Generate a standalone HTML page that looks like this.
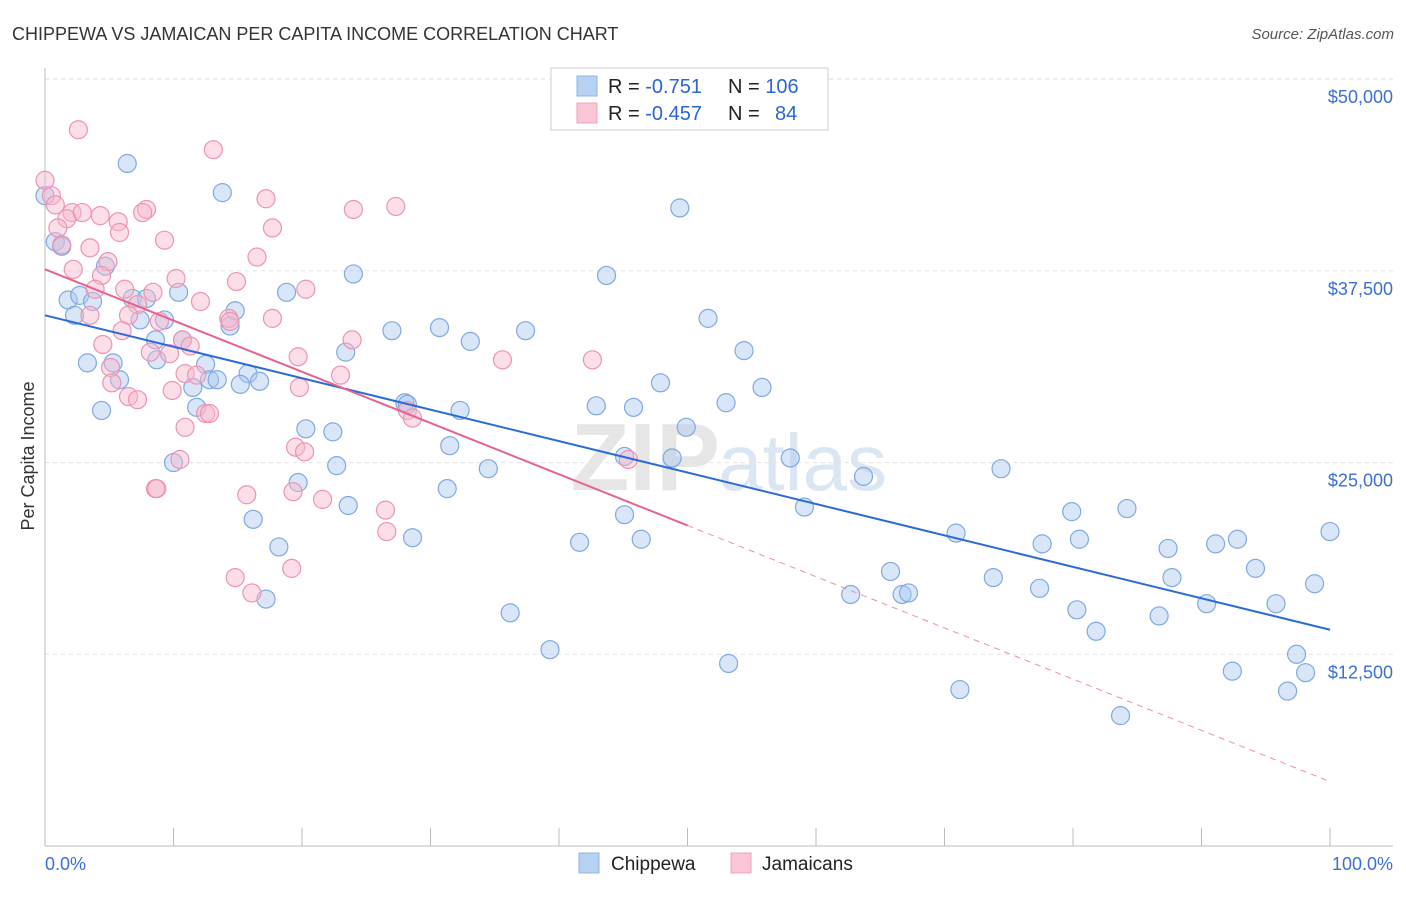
<!DOCTYPE html>
<html><head><meta charset="utf-8"><style>
body{margin:0;background:#fff;font-family:"Liberation Sans",sans-serif;}
svg text{font-family:"Liberation Sans",sans-serif;}
</style></head><body>
<svg id="chart" width="1406" height="892">
<text x="12" y="40" font-size="18" fill="#333">CHIPPEWA VS JAMAICAN PER CAPITA INCOME CORRELATION CHART</text>
<text x="1394" y="39" font-size="15" fill="#555" font-style="italic" text-anchor="end">Source: ZipAtlas.com</text>
<text x="720" y="490" font-size="96" font-weight="bold" fill="#e6e6e6" text-anchor="end">ZIP</text>
<text x="718" y="490" font-size="80" fill="#dbe6f3">atlas</text>
<g id="grid"></g><g id="axes"></g><g id="pts"></g><g id="lines"></g>
<text transform="translate(34,456) rotate(-90)" font-size="18" fill="#333" text-anchor="middle">Per Capita Income</text>
<text x="45" y="870" font-size="18" fill="#3a6fd8">0.0%</text>
<text x="1393" y="870" font-size="18" fill="#3a6fd8" text-anchor="end">100.0%</text>
<g>
<rect x="551" y="68" width="277" height="62" fill="#fff" stroke="#ccc"/>
<rect x="577" y="76" width="20" height="20" fill="#b7d1f3" stroke="#8fb4e8"/>
<rect x="577" y="103" width="20" height="20" fill="#f9c6d6" stroke="#f1a3bd"/>
<text x="608" y="93" font-size="20" fill="#222">R = <tspan fill="#2a64d6"> -0.751</tspan><tspan x="728">N = </tspan><tspan fill="#2a64d6">106</tspan></text>
<text x="608" y="120" font-size="20" fill="#222">R = <tspan fill="#2a64d6">-0.457</tspan><tspan x="728">N = </tspan><tspan fill="#2a64d6" x="775">84</tspan></text>
</g>
<g>
<rect x="579" y="853" width="20" height="20" fill="#b7d1f3" stroke="#8fb4e8"/>
<text x="611" y="870" font-size="19" fill="#222">Chippewa</text>
<rect x="731" y="853" width="20" height="20" fill="#f9c6d6" stroke="#f1a3bd"/>
<text x="762" y="870" font-size="19" fill="#222">Jamaicans</text>
</g>
</svg>
<script>
const yTicks=[12500,25000,37500,50000];
const yTickLabels=["$12,500","$25,000","$37,500","$50,000"];
const xTicks=[0,10,20,30,40,50,60,70,80,90,100];
const blueX=[6.4,13.8,49.4,0.8,1.3,4.7,24.0,43.7,1.8,2.7,3.7,6.8,7.9,10.4,18.8,2.3,7.4,9.3,14.8,14.4,27.0,30.7,37.4,51.6,8.6,10.7,33.1,23.4,54.4,3.3,5.3,8.7,12.5,15.8,5.8,11.5,12.8,13.4,15.2,16.7,47.9,55.8,4.4,11.8,28.0,28.2,32.3,42.9,45.8,53.0,20.3,22.4,49.9,31.5,10.0,22.7,34.5,45.1,48.8,58.0,63.7,74.4,19.7,31.3,16.2,23.6,45.1,59.1,28.6,18.2,41.6,46.4,70.9,79.9,84.2,80.5,77.6,87.4,91.1,92.8,100,65.8,73.8,87.7,94.2,98.8,62.7,66.7,67.2,77.4,17.2,36.2,80.3,86.7,90.4,95.8,81.8,39.3,97.4,53.2,92.4,98.1,71.2,96.7,83.7,0];
const blueY=[44.5,42.6,41.6,39.4,39.1,37.8,37.3,37.2,35.6,35.9,35.5,35.7,35.7,36.1,36.1,34.6,34.3,34.3,34.9,33.9,33.6,33.8,33.6,34.4,33.0,33.0,32.9,32.2,32.3,31.5,31.5,31.7,31.4,30.8,30.4,29.9,30.4,30.4,30.1,30.3,30.2,29.9,28.4,28.6,28.9,28.8,28.4,28.7,28.6,28.9,27.2,27.0,27.3,26.1,25.0,24.8,24.6,25.4,25.3,25.3,24.1,24.6,23.7,23.3,21.3,22.2,21.6,22.1,20.1,19.5,19.8,20.0,20.4,21.8,22.0,20.0,19.7,19.4,19.7,20.0,20.5,17.9,17.5,17.5,18.1,17.1,16.4,16.4,16.5,16.8,16.1,15.2,15.4,15.0,15.8,15.8,14.0,12.8,12.5,11.9,11.4,11.3,10.2,10.1,8.5,42.4];
const pinkX=[2.6,13.1,0,0.5,0.8,2.1,1.7,2.9,4.3,5.7,7.9,7.6,17.2,24.0,27.3,1.0,5.8,17.7,1.3,3.5,9.3,16.5,4.9,2.2,4.4,10.2,14.9,20.3,3.9,6.2,8.4,12.1,7.2,3.5,6.5,8.9,14.3,17.7,14.4,6.0,10.7,11.3,23.9,4.5,8.2,9.7,19.7,35.6,42.6,5.1,10.9,11.8,23.0,5.2,9.9,19.8,6.5,7.2,28.2,28.6,12.5,12.8,10.9,19.5,20.2,10.5,45.4,8.6,8.7,15.7,19.3,21.6,26.5,26.6,14.8,19.2,16.1];
const pinkY=[46.7,45.4,43.4,42.4,41.8,41.3,40.9,41.3,41.1,40.7,41.5,41.3,42.2,41.5,41.7,40.3,40.0,40.3,39.2,39.0,39.5,38.4,38.1,37.6,37.2,37.0,36.8,36.3,36.3,36.3,36.1,35.5,35.3,34.6,34.6,34.2,34.4,34.4,34.2,33.6,33.0,32.6,33.0,32.7,32.2,32.1,31.9,31.7,31.7,31.2,30.8,30.7,30.7,30.2,29.7,29.9,29.3,29.1,28.4,27.9,28.2,28.2,27.3,26.0,25.7,25.2,25.2,23.3,23.3,22.9,23.1,22.6,21.9,20.5,17.5,18.1,16.5];
const blueTrend=[[0,34.6],[100,14.1]];
const pinkTrendSolid=[[0,37.6],[50,20.9]];
const pinkTrendDash=[[50,20.9],[100,4.2]];
const NS="http://www.w3.org/2000/svg";
const X=v=>45+v*12.85, Y=v=>846-v*1000/65.2;
function mk(p,t,a){const e=document.createElementNS(NS,t);for(const k in a)e.setAttribute(k,a[k]);document.getElementById(p).appendChild(e);return e;}
yTicks.forEach((t,i)=>{
 const l=mk('grid','line',{x1:45,x2:1393,y1:Y(t/1000),y2:Y(t/1000),stroke:'#e2e2e2','stroke-dasharray':'4,4'});
 
 
 const tx=mk('grid','text',{x:1393,y:Y(t/1000)+24,'font-size':18,fill:'#3a6fd8','text-anchor':'end'});tx.textContent=yTickLabels[i];
 
 
});
{const l=mk('grid','line',{x1:45,x2:1393,y1:79,y2:79,stroke:'#e2e2e2','stroke-dasharray':'4,4'});
 
 }
{const a=mk('axes','line',{x1:45,x2:1393,y1:846,y2:846,stroke:'#bbb'});
 
 
 const b=mk('axes','line',{x1:45,x2:45,y1:68,y2:846,stroke:'#bbb'});
 
 }
xTicks.forEach(t=>{const l=mk('axes','line',{x1:X(t),x2:X(t),y1:828,y2:846,stroke:'#bbb'});
 
 });
function pts(xs,ys,fill,stroke,name){xs.forEach((x,i)=>{const c=mk('pts','circle',{cx:X(x),cy:Y(ys[i]),r:9,fill:fill,'fill-opacity':0.45,stroke:stroke,'stroke-width':1.2});
 
 });}
pts(blueX,blueY,'#a9c8f0','#7fa9e2','chippewa-point');
pts(pinkX,pinkY,'#f7b6cb','#ee93b1','jamaican-point');
function ln(d,col,w,dash,name){const l=mk('lines','line',{x1:X(d[0][0]),y1:Y(d[0][1]),x2:X(d[1][0]),y2:Y(d[1][1]),stroke:col,'stroke-width':w});if(dash)l.setAttribute('stroke-dasharray',dash);
 
 }
ln(blueTrend,'#2a6bd6',2,null,'chippewa-trend-line');
ln(pinkTrendSolid,'#e5638f',2,null,'jamaican-trend-line');
ln(pinkTrendDash,'#eb8fae',1,'6,5','jamaican-trend-extension');
</script>
</body></html>
